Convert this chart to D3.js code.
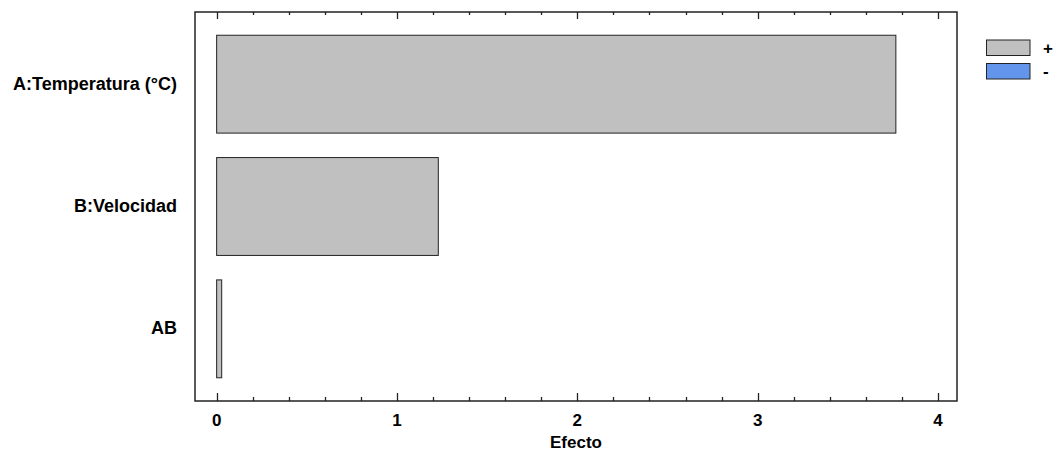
<!DOCTYPE html>
<html><head><meta charset="utf-8">
<script src="https://cdn.jsdelivr.net/npm/d3@7"></script>
<style>body{margin:0;background:#fff}svg{display:block}text{font-family:"Liberation Sans",Arial,sans-serif;font-weight:bold;fill:#000}</style>
</head><body>
<svg id="c" width="1055" height="459"></svg>
<script>
const categories = ["A:Temperatura (°C)", "B:Velocidad", "AB"];
const effects = [3.766, 1.229, 0.028];
const xTicks = [0, 1, 2, 3, 4];
const legendLabels = ["+", "-"];
const legendColors = ["#C0C0C0", "#6495ED"];
const xTitle = "Efecto";

const svg = d3.select("#c");
const L = 195, R = 957, T = 12, B = 401;
const x = d3.scaleLinear().domain([-0.12, 4.105]).range([L, R]);
const y = d3.scaleBand().domain(categories).range([T, B]).paddingInner(0.2).paddingOuter(0.19);

// bars
svg.append("g").selectAll("rect").data(categories).join("rect")
  .attr("x", x(0)).attr("y", d => y(d))
  .attr("width", (d, i) => x(effects[i]) - x(0))
  .attr("height", y.bandwidth())
  .attr("fill", (d, i) => effects[i] >= 0 ? legendColors[0] : legendColors[1])
  .attr("stroke", "#222").attr("stroke-width", 1);

// frame
svg.append("rect").attr("x", L).attr("y", T).attr("width", R - L).attr("height", B - T)
  .attr("fill", "none").attr("stroke", "#222").attr("stroke-width", 1.5);

// ticks bottom (inside) and top mirror
const minor = d3.range(0, 4.01, 0.2).map(v => +v.toFixed(1));
const isMajor = v => Math.abs(v - Math.round(v)) < 1e-6;
const tg = svg.append("g").attr("stroke", "#222").attr("stroke-width", 1.3);
minor.forEach(v => {
  const xv = Math.round(x(v)) + 0.5;
  const lb = isMajor(v) ? 8 : 4, lt = isMajor(v) ? 7 : 3;
  tg.append("line").attr("x1", xv).attr("x2", xv).attr("y1", B).attr("y2", B - lb);
  tg.append("line").attr("x1", xv).attr("x2", xv).attr("y1", T).attr("y2", T + lt);
});

// tick labels
svg.append("g").selectAll("text").data(xTicks).join("text")
  .attr("x", d => x(d)).attr("y", 426).attr("text-anchor", "middle")
  .attr("font-size", 17).text(d => d);

svg.append("text").attr("x", 576).attr("y", 448).attr("text-anchor", "middle")
  .attr("font-size", 17).text(xTitle);

// category labels
svg.append("g").selectAll("text").data(categories).join("text")
  .attr("x", 177).attr("y", d => y(d) + y.bandwidth() / 2 + 5.5).attr("text-anchor", "end")
  .attr("font-size", 18).text(d => d);

// legend
const lg = svg.append("g");
legendLabels.forEach((t, i) => {
  const yy = 40 + i * 23.5;
  lg.append("rect").attr("x", 986.5).attr("y", yy).attr("width", 43.5).attr("height", 15.5)
    .attr("fill", legendColors[i]).attr("stroke", "#222").attr("stroke-width", 1);
  lg.append("text").attr("x", 1043).attr("y", yy + 13.5).attr("font-size", 17).text(t);
});
</script>
</body></html>
